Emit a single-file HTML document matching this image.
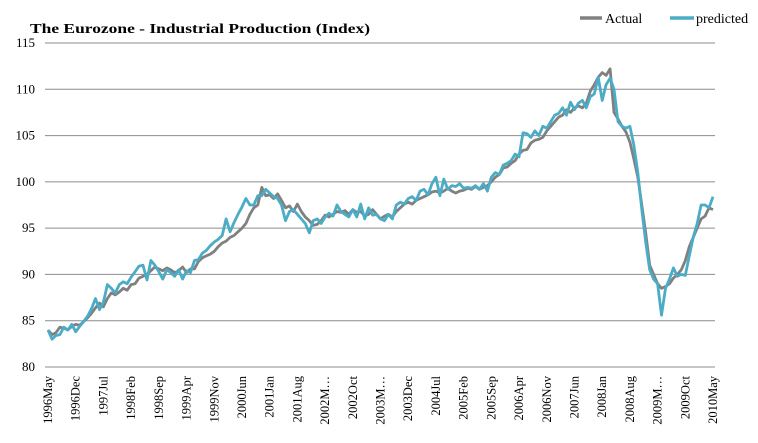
<!DOCTYPE html>
<html><head><meta charset="utf-8"><style>
html,body{margin:0;padding:0;background:#fff;}
svg{display:block;font-family:"Liberation Serif",serif;}
</style></head><body>
<svg id="chart" width="758" height="443" viewBox="0 0 758 443">
<text x="30" y="33" font-size="14" font-weight="bold" textLength="340" lengthAdjust="spacingAndGlyphs">The Eurozone  - Industrial Production (Index)</text>
<g>
<line x1="580" y1="18" x2="602" y2="18" stroke="#808080" stroke-width="3.5"/>
<text x="605" y="23" font-size="14">Actual</text>
<line x1="670" y1="18" x2="694" y2="18" stroke="#4bacc6" stroke-width="3.5"/>
<text x="696" y="23" font-size="14">predicted</text>
</g>
<g id="grid"></g><g id="yt"></g><g id="xt"></g><g id="series"></g>
</svg>
<script>
const yTicks=[80,85,90,95,100,105,110,115];
const xLabels=["1996May","1996Dec","1997Jul","1998Feb","1998Sep","1999Apr","1999Nov","2000Jun","2001Jan","2001Aug","2002M…","2002Oct","2003M…","2003Dec","2004Jul","2005Feb","2005Sep","2006Apr","2006Nov","2007Jun","2008Jan","2008Aug","2009M…","2009Oct","2010May"];
const actual=[84.0,83.5,83.7,84.3,84.2,84.0,84.4,84.6,
84.5,84.9,85.3,85.8,86.4,86.9,86.5,87.4,88.0,87.8,88.1,88.5,
88.3,88.9,89.0,89.6,89.8,90.0,90.4,90.8,90.6,90.4,90.7,90.5,
90.2,90.4,90.8,90.2,90.6,90.6,91.4,91.8,92.0,92.2,92.5,93.0,
93.4,93.6,94.0,94.2,94.6,95.0,95.5,96.5,97.2,97.5,99.4,98.5,
98.6,98.2,98.7,98.0,97.2,97.4,96.8,97.6,96.8,96.2,95.8,95.3,
95.4,95.8,96.4,96.2,96.5,96.8,96.7,96.9,96.5,97.0,96.7,96.8,
96.3,96.5,97.0,96.5,96.0,96.3,96.5,96.2,96.8,97.2,97.6,97.8,
97.6,98.0,98.2,98.4,98.6,98.9,99.0,98.8,99.0,99.3,99.0,98.8,
99.0,99.1,99.3,99.2,99.5,99.2,99.4,99.6,100.0,100.5,100.8,101.5,
101.6,102.0,102.3,103.0,103.4,103.5,104.2,104.5,104.6,104.8,105.5,106.0,
106.5,107.0,107.2,107.8,107.5,108.0,108.2,108.0,108.5,109.8,110.5,111.3,
111.8,111.5,112.2,107.5,106.8,106.0,105.4,104.3,102.5,100.5,97.5,94.5,
91.0,90.0,89.0,88.5,88.7,89.0,89.6,90.0,90.5,91.5,93.0,94.0,
95.0,96.0,96.3,97.2,97.0];
const predicted=[84.0,83.0,83.4,83.5,84.3,84.0,84.6,83.8,
84.4,84.9,85.5,86.3,87.4,86.2,87.0,88.9,88.5,88.0,88.9,89.2,
89.0,89.7,90.3,90.9,91.0,89.4,91.5,91.0,90.3,89.5,90.5,90.2,
89.8,90.5,89.5,90.4,90.2,91.5,91.6,92.3,92.6,93.1,93.5,93.8,
94.2,96.0,94.6,95.6,96.5,97.3,98.2,97.5,97.5,98.5,98.5,99.2,
98.8,98.4,98.2,97.5,95.8,96.8,97.0,96.5,96.0,95.5,94.5,95.8,
96.0,95.5,96.2,96.6,96.3,97.5,96.8,96.5,96.2,97.0,96.2,97.6,
96.0,97.2,96.4,96.5,96.0,95.8,96.5,96.0,97.5,97.8,97.6,98.2,
98.4,98.0,99.0,99.2,98.6,99.8,100.5,98.5,100.3,99.2,99.6,99.5,
99.8,99.3,99.4,99.3,99.6,99.2,99.8,99.0,100.5,101.0,100.8,101.8,
102.0,102.3,103.0,102.7,105.3,105.2,104.8,105.5,105.0,106.0,105.8,106.5,
107.2,107.4,108.0,107.2,108.6,107.8,108.5,108.8,108.0,109.2,109.5,111.3,
108.8,110.5,111.2,110.0,106.5,106.0,105.8,106.0,104.0,101.0,97.0,93.5,
90.5,89.5,89.0,85.6,88.5,89.5,90.7,89.8,90.0,89.9,92.0,94.0,
95.5,97.5,97.5,97.2,98.4];
const NS="http://www.w3.org/2000/svg";
const x0=48,x1=713,gx0=45,gx1=715,y80=367,y115=43;
function xs(i){return x0+(x1-x0)*i/(actual.length-1);}
function ys(v){return y80+(v-80)*(y115-y80)/35;}
function mk(t,a,p){const e=document.createElementNS(NS,t);for(const k in a)e.setAttribute(k,a[k]);p.appendChild(e);return e;}
const grid=document.getElementById('grid'),yt=document.getElementById('yt'),xt=document.getElementById('xt'),ser=document.getElementById('series');
yTicks.forEach(v=>{
 const l=mk('line',{x1:gx0,x2:gx1,y1:ys(v),y2:ys(v),stroke:'#8c8c8c','stroke-width':1},grid);
 
 
 const t=mk('text',{x:35,y:ys(v)+4,'font-size':13,'text-anchor':'end'},yt);
 t.textContent=v;
 
 
});
xLabels.forEach((s,k)=>{
 const x=xs(k*7)+4;
 const t=mk('text',{x:0,y:0,'font-size':12.5,'text-anchor':'end',transform:`translate(${x},376) rotate(-90)`},xt);
 t.textContent=s;
 
 
});
function line(arr,col,name){
 const d=arr.map((v,i)=>(i?'L':'M')+xs(i).toFixed(1)+','+ys(v).toFixed(1)).join('');
 const p=mk('path',{d:d,fill:'none',stroke:col,'stroke-width':2.8,'stroke-linejoin':'round'},ser);
 
 
}
line(actual,'#808080','actual-line');
line(predicted,'#4bacc6','predicted-line');
</script>
</body></html>
